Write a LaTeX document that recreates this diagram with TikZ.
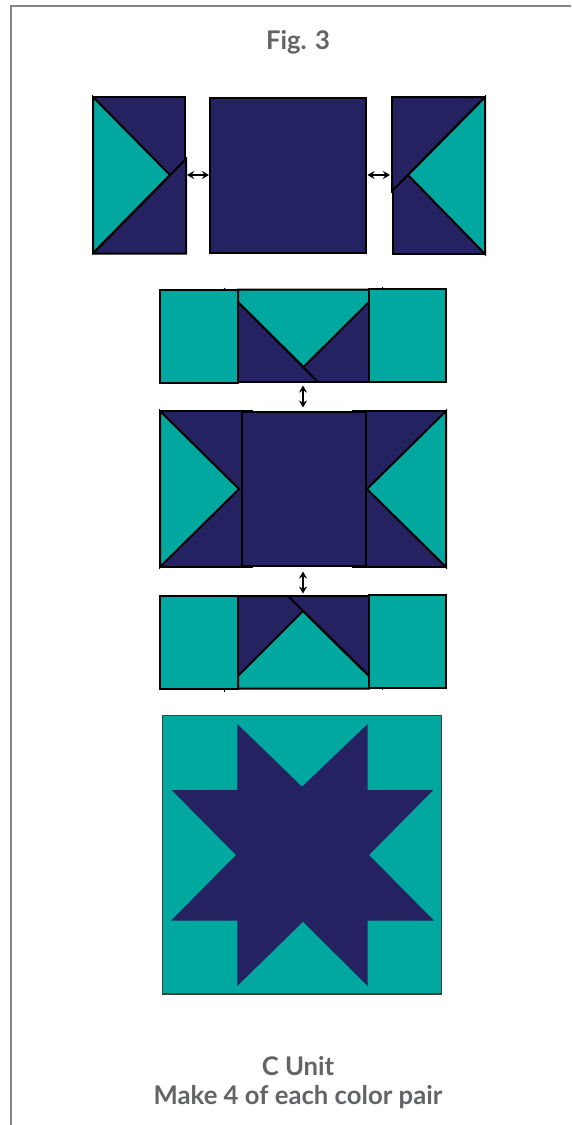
\documentclass[tikz,border=0pt]{standalone}
\usepackage{fontspec}
\setmainfont{Lato}
\usetikzlibrary{arrows.meta}
\definecolor{navy}{HTML}{252262}
\definecolor{teal2}{HTML}{00A8A0}
\definecolor{txt}{HTML}{636466}
\definecolor{framec}{HTML}{858585}
\tikzset{
  navyp/.style={fill=navy,draw=black,line width=2pt,line join=miter},
  tealp/.style={fill=teal2,draw=black,line width=2pt,line join=miter},
  edge/.style={draw=black,line width=2pt},
  dbl/.style={black,line width=1.3pt,{Stealth[length=7pt,width=8pt]}-{Stealth[length=7pt,width=8pt]}},
  tick/.style={black,line width=1pt},
  lbl/.style={text=txt,font=\bfseries\fontsize{25.7}{30}\selectfont,inner sep=0pt,anchor=center}
}
\begin{document}
\begin{tikzpicture}[x=1pt,y=-1pt]
\useasboundingbox (0,0) rectangle (571,1125);
\fill[white] (0,0) rectangle (571,1125);
\draw[framec,line width=1.2pt] (571,6) -- (11,6) -- (11,1125);
\node[lbl] (title) at (298,42) {Fig. 3};
% row 1
\fill[navy] (93,97) rectangle (185.5,253.5);
\draw[tealp] (93,97) -- (170,175) -- (93,253) -- cycle;
\draw[edge] (93,97) -- (185.3,97) -- (185.3,162);
\draw[edge] (93,253.5) -- (186,253.5) -- (186,159) -- (93,253.5);
\draw[navyp] (210,97.7) rectangle (365.7,252.7);
\fill[navy] (392,97) rectangle (485,254);
\draw[tealp] (485,97) -- (408,175) -- (485,254) -- cycle;
\draw[edge] (485,97) -- (392,97) -- (392,191) -- (485,97);
\draw[edge] (392.7,190) -- (392.7,254) -- (485,254);
\coordinate (a1) at (187,175);
\coordinate (a2) at (209,175);
\coordinate (a3) at (367.5,175);
\coordinate (a4) at (390,175);
\draw[dbl] (a1) -- (a2);
\draw[dbl] (a3) -- (a4);
% row 2
\fill[navy] (238,289.5) rectangle (369,382);
\draw[tealp] (238,289.5) -- (369,289.5) -- (369,302) -- (303.5,367) -- (238,302) -- cycle;
\draw[edge] (238,302) -- (318,382);
\draw[edge] (238,382.3) -- (318,382.3);
\draw[edge] (318,381.5) -- (369,381.5);
\draw[tealp] (160,290) rectangle (238,382.7);
\draw[tealp] (369,289) rectangle (446,382);
\draw[tick] (224,288) -- (226,290);
\draw[tick] (382,290) -- (382,287);
\coordinate (b1) at (303,385.5);
\coordinate (b2) at (303,407.5);
\draw[dbl] (b1) -- (b2);
% row 3
\fill[navy] (160,411) rectangle (446,567);
\draw[tealp] (160,411) -- (239,489) -- (160,567) -- cycle;
\draw[tealp] (446,411) -- (367,489) -- (446,567) -- cycle;
\draw[edge] (160,411) -- (253,411);
\draw[edge] (352,411) -- (446,411);
\draw[edge] (160,567) -- (253,567);
\draw[edge] (352,567) -- (446,567);
\draw[navyp] (241.7,411.8) rectangle (365.5,566);
% row 4
\coordinate (c1) at (303,571.5);
\coordinate (c2) at (303,593.5);
\draw[dbl] (c1) -- (c2);
\fill[navy] (238,596) rectangle (369,688.5);
\draw[tealp] (238,688.7) -- (369,688.7) -- (369,676) -- (303,611) -- (238,676) -- cycle;
\draw[edge] (288,596) -- (369,676);
\draw[edge] (238,596.3) -- (288,596.3);
\draw[edge] (287,595.5) -- (369,595.5);
\draw[tealp] (160,595.5) rectangle (238,688.5);
\draw[tealp] (369,594.7) rectangle (446,687.7);
\draw[tick] (224,689) -- (224,691.5);
\draw[tick] (382,688) -- (382,690);
% star
\draw[fill=teal2,draw=black!75,line width=1.2pt] (162.8,715.7) rectangle (441.7,994);
\fill[navy] (237.3,724) -- (302,786.7) -- (367.7,724) -- (367.7,790) -- (433.3,790)
 -- (369,855) -- (434,920.7) -- (367.7,920.7) -- (367.7,986) -- (303,921.7)
 -- (237.3,986) -- (237.3,920.7) -- (171,920.7) -- (236,855) -- (171.7,790) -- (237.3,790) -- cycle;
\node[lbl] (unit) at (298,1066.5) {C Unit};
\node[lbl] (make) at (298,1097) {Make 4 of each color pair};
\end{tikzpicture}
\end{document}
